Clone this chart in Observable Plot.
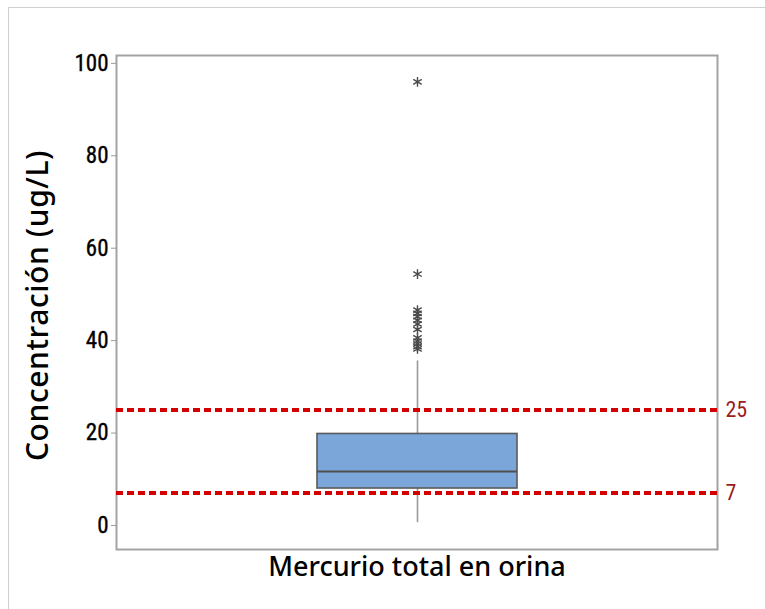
<!DOCTYPE html>
<html>
<head>
<meta charset="utf-8">
<script src="https://cdn.jsdelivr.net/npm/d3@7"></script>
<script src="https://cdn.jsdelivr.net/npm/@observablehq/plot@0.6"></script>
<style>
  html, body { margin: 0; padding: 0; background: #fff; }
  #wrap { position: relative; width: 765px; height: 609px; overflow: hidden; }
  #border { position: absolute; left: 8px; top: 7px; right: -10px; bottom: -10px; border-top: 1px solid #cfcfcf; border-left: 1px solid #cfcfcf; pointer-events: none; }
  svg { position: absolute; left: 0; top: 0; }
  g[aria-label="y-axis tick label"] text { stroke: #000; stroke-width: 0.35px; }
</style>
</head>
<body>
<div id="wrap"><div id="border"></div></div>
<script>
const category = "Mercurio total en orina";
const yLabel = "Concentración (ug/L)";
const yTicks = [0, 20, 40, 60, 80, 100];
// box statistics
const whiskerLow = [0.6];
const q1 = [8.0];
const median = [11.7];
const q3 = [19.8];
const whiskerHigh = [35.6];
const outliers = [96.0, 54.4, 46.6, 45.9, 45.2, 44.4, 43.6, 42.4, 40.6, 39.9, 39.3, 38.7, 38.2];
const refValues = [25, 7];
const refLabels = ["25", "7"];

const box = [{cat: category, lo: whiskerLow[0], q1: q1[0], med: median[0], q3: q3[0], hi: whiskerHigh[0]}];
const out = outliers.map(v => ({cat: category, v}));
const refs = refValues.map((v, i) => ({v, label: refLabels[i]}));

const axisFont = "'Liberation Sans Narrow', 'Roboto Condensed', 'DejaVu Sans Condensed', 'Liberation Sans', sans-serif";
const titleFont = "'Noto Sans', 'Open Sans', sans-serif";

const chart = Plot.plot({
  width: 765,
  height: 609,
  marginLeft: 116,
  marginRight: 48,
  marginTop: 55,
  marginBottom: 60,
  style: {background: "transparent", overflow: "visible"},
  x: {type: "band", domain: [category], padding: 0.5, axis: null},
  y: {domain: [-5.2, 101.7], ticks: yTicks, axis: null},
  marks: [
    Plot.frame({stroke: "#a3a3a3", strokeWidth: 2}),
    Plot.axisY({ticks: yTicks, tickSize: 5, tickPadding: 3, stroke: "#999", fontSize: 23, fontFamily: axisFont, label: null, color: "#000"}),
    Plot.ruleX(box, {x: "cat", y1: "lo", y2: "q1", stroke: "#9a9a9a", strokeWidth: 1.6}),
    Plot.ruleX(box, {x: "cat", y1: "q3", y2: "hi", stroke: "#9a9a9a", strokeWidth: 1.6}),
    Plot.barY(box, {x: "cat", y1: "q1", y2: "q3", fill: "#7ba6d9", stroke: "#5a5a5a", strokeWidth: 1.6}),
    Plot.tickY(box, {x: "cat", y: "med", stroke: "#505050", strokeWidth: 2}),
    Plot.dot(out, {x: "cat", y: "v", symbol: "asterisk", r: 4.6, stroke: "#4a4a4a", strokeWidth: 1.4}),
    Plot.ruleY(refs, {y: "v", stroke: "#d40000", strokeWidth: 4, strokeDasharray: "7,4"}),
    Plot.text(refs, {y: "v", text: "label", frameAnchor: "right", dx: 8, textAnchor: "start", fill: "#9b1c1c", fontSize: 22, fontFamily: axisFont}),
    Plot.text([yLabel], {frameAnchor: "left", textAnchor: "middle", rotate: -90, dx: -78, dy: 3, fontSize: 30, fontFamily: titleFont, fontWeight: 500, fill: "#000"}),
    Plot.text([category], {frameAnchor: "bottom", textAnchor: "middle", dy: 26, fontSize: 27, fontFamily: titleFont, fontWeight: 500, fill: "#000"})
  ]
});
document.getElementById("wrap").appendChild(chart);
document.querySelectorAll("svg text").forEach(t => { if (t.textContent === yLabel) t.style.letterSpacing = "0.6px"; });
</script>
</body>
</html>
